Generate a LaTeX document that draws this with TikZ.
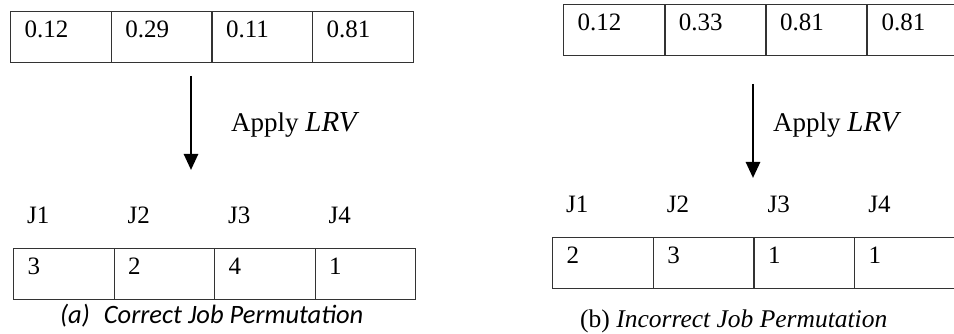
\documentclass[tikz,border=0pt]{standalone}
\usepackage{fontspec}
\setmainfont{Liberation Serif}
\newfontfamily\sanscaption{Carlito}
\usetikzlibrary{calc}
\usetikzlibrary{arrows.meta}
\tikzstyle{cellnode} = [draw=black!80, line width=1.2pt, rectangle, anchor=north west, text width=72.7pt, inner xsep=14pt, inner ysep=4pt, text height=22pt, text depth=21pt, align=left, font=\fontsize{25}{30}\selectfont]
\tikzstyle{plainlabel} = [anchor=base west, inner sep=0pt, font=\fontsize{25}{30}\selectfont]
\tikzstyle{steparrow} = [line width=2.6pt, -{Triangle[length=16pt,width=14pt]}]
\newcommand{\lrvtext}{{\fontsize{29}{32}\selectfont\itshape LRV}}

\begin{document}
\begin{tikzpicture}[x=1pt, y=-1pt]
\path[use as bounding box] (0,0) rectangle (954,334);
\clip (0,0) rectangle (954,334);

% (a) correct permutation
\node[cellnode] (topA_1) at (10,11) {0.12};
\node[cellnode] (topA_2) at ($(topA_1.north west)+(100.7,0)$) {0.29};
\node[cellnode] (topA_3) at ($(topA_2.north west)+(100.7,0)$) {0.11};
\node[cellnode] (topA_4) at ($(topA_3.north west)+(100.7,0)$) {0.81};

\coordinate (arrA_top) at (191,76);
\coordinate (arrA_tip) at (191,170);
\draw[steparrow] (arrA_top) -- (arrA_tip);
\node[plainlabel, font=\fontsize{27}{30}\selectfont] (applyA) at (231,132) {Apply \lrvtext};

\node[cellnode] (permA_1) at (13,248) {3};
\node[cellnode] (permA_2) at ($(permA_1.north west)+(100.5,0)$) {2};
\node[cellnode] (permA_3) at ($(permA_2.north west)+(100.5,0)$) {4};
\node[cellnode] (permA_4) at ($(permA_3.north west)+(100.5,0)$) {1};

\node[plainlabel] (jobA_1) at ($(permA_1.north west)+(14,-25)$) {J1};
\node[plainlabel] (jobA_2) at ($(permA_2.north west)+(14,-25)$) {J2};
\node[plainlabel] (jobA_3) at ($(permA_3.north west)+(14,-25)$) {J3};
\node[plainlabel] (jobA_4) at ($(permA_4.north west)+(14,-25)$) {J4};

\node[plainlabel, font=\sanscaption\itshape\fontsize{26.5}{30}\selectfont] (captionA) at (60,323) {(a)\hspace{14pt}Correct Job Permutation};

% (b) incorrect permutation
\node[cellnode] (topB_1) at (563,4) {0.12};
\node[cellnode] (topB_2) at ($(topB_1.north west)+(101.3,0)$) {0.33};
\node[cellnode] (topB_3) at ($(topB_2.north west)+(101.3,0)$) {0.81};
\node[cellnode] (topB_4) at ($(topB_3.north west)+(101.3,0)$) {0.81};

\coordinate (arrB_top) at (753,84);
\coordinate (arrB_tip) at (753,178);
\draw[steparrow] (arrB_top) -- (arrB_tip);
\node[plainlabel, font=\fontsize{27}{30}\selectfont] (applyB) at (773,132) {Apply \lrvtext};

\node[cellnode] (permB_1) at (552,237) {2};
\node[cellnode] (permB_2) at ($(permB_1.north west)+(100.7,0)$) {3};
\node[cellnode] (permB_3) at ($(permB_2.north west)+(100.7,0)$) {1};
\node[cellnode] (permB_4) at ($(permB_3.north west)+(100.7,0)$) {1};

\node[plainlabel] (jobB_1) at ($(permB_1.north west)+(14,-25)$) {J1};
\node[plainlabel] (jobB_2) at ($(permB_2.north west)+(14,-25)$) {J2};
\node[plainlabel] (jobB_3) at ($(permB_3.north west)+(14,-25)$) {J3};
\node[plainlabel] (jobB_4) at ($(permB_4.north west)+(14,-25)$) {J4};

\node[plainlabel, font=\fontsize{25.5}{30}\selectfont] (captionB) at (580,327) {(b) \textit{Incorrect Job Permutation}};
\end{tikzpicture}
\end{document}
